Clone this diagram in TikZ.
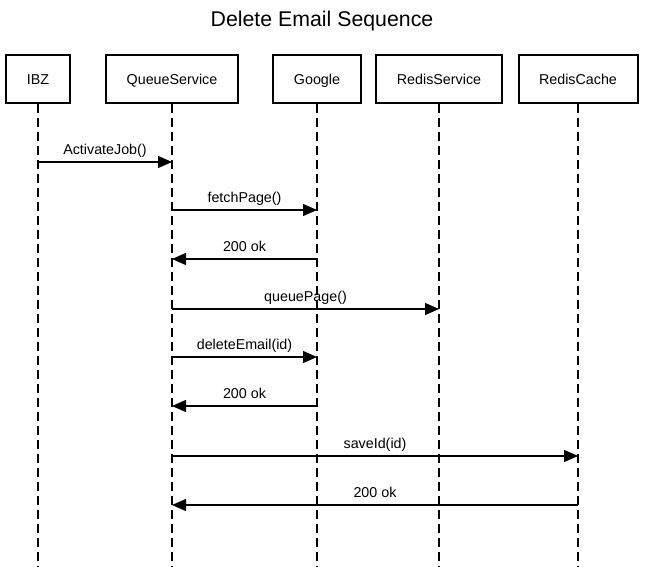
\documentclass[tikz,border=0pt]{standalone}
\usepackage{fontspec}
\setmainfont{Liberation Sans}
\usetikzlibrary{arrows.meta}

\tikzset{
    actor/.style={draw, line width=2pt, minimum height=48pt, inner sep=0pt, text height=12pt, text depth=0pt, font=\fontsize{14.3}{16}\selectfont},
    lifeline/.style={line width=1.3pt, dash pattern=on 9pt off 5pt},
    msg/.style={line width=1.3pt, -{Triangle[length=14pt, width=12pt]}},
    msglabel/.style={font=\fontsize{14.3}{16}\selectfont, inner sep=0pt, text height=11pt, text depth=3pt}
}

\begin{document}
\begin{tikzpicture}[x=1pt, y=-1pt]
        \useasboundingbox (0,0) rectangle (645,567);

        \node[font=\fontsize{21.3}{24}\selectfont] (title) at (322,21) {Delete Email Sequence};

        % participants: name / centre x / box width / text
        \foreach \n/\x/\w/\t in {ibz/38/64/IBZ, qs/172/132/QueueService, google/317/88/Google, rs/439/126/RedisService, rc/578/119/RedisCache} {
            \node[actor, minimum width=\w pt] (\n) at (\x,79) {\t};
            \coordinate (\n-end) at (\x,567);
            \draw[lifeline] (\n.south) -- (\n-end);
        }

        % messages: from / to / y / label
        \foreach \a/\b/\y/\t in {ibz/qs/162/ActivateJob(), qs/google/210/fetchPage(), google/qs/259/200 ok, qs/rs/309/queuePage(), qs/google/357/deleteEmail(id), google/qs/406/200 ok, qs/rc/456/saveId(id), rc/qs/505/200 ok} {
            \coordinate (p) at (\a.south |- 0,\y);
            \coordinate (q) at (\b.south |- 0,\y);
            \draw[msg] (p) -- node[msglabel, above=4pt] {\t} (q);
        }
    \end{tikzpicture}
\end{document}
